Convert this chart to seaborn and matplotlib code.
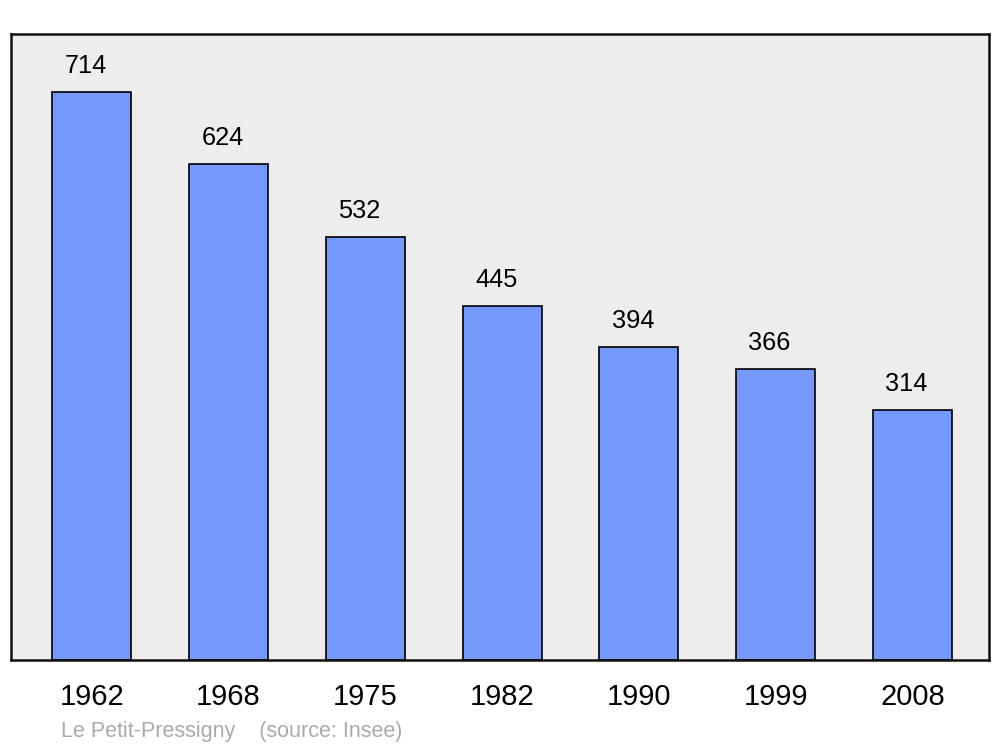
import matplotlib
matplotlib.use("Agg")
import matplotlib.pyplot as plt
import seaborn as sns
import pandas as pd

# ---------------------------------------------------
# DATA
# ---------------------------------------------------

years = ["1962", "1968", "1975", "1982", "1990", "1999", "2008"]
population = [714, 624, 532, 445, 394, 366, 314]

df = pd.DataFrame({"year": years, "population": population})

# ---------------------------------------------------
# STYLE
# ---------------------------------------------------

sns.set_style("white")
plt.rcParams["font.family"] = ["Liberation Sans", "DejaVu Sans"]

fig = plt.figure(figsize=(10, 7.47), dpi=100)
ax = fig.add_axes([0.011, 0.1165, 0.978, 0.838])
ax.set_facecolor("#ededed")

# ---------------------------------------------------
# BARS
# ---------------------------------------------------

sns.barplot(
    data=df,
    x="year",
    y="population",
    color="#7499ff",
    saturation=1,
    edgecolor="black",
    linewidth=1.2,
    width=0.578,
    ax=ax
)

for patch, value in zip(ax.patches, population):
    ax.annotate(
        str(value),
        xy=(patch.get_x() + patch.get_width() / 2, patch.get_height()),
        xytext=(-4.3, 13.5),
        textcoords="offset points",
        ha="center",
        va="baseline",
        fontsize=18.3,
        color="black"
    )

ax.set_xlim(-0.59, 6.56)
ax.set_ylim(0, 787)

ax.set_xlabel("")
ax.set_ylabel("")
ax.set_yticks([])
ax.tick_params(axis="x", length=0, pad=16.5, labelsize=21, labelcolor="black")

for spine in ax.spines.values():
    spine.set_visible(True)
    spine.set_linewidth(1.8)
    spine.set_color("#111111")

fig.text(
    0.061, 0.0134,
    "Le Petit-Pressigny    (source: Insee)",
    fontsize=15.5,
    color="#aaaaaa",
    ha="left",
    va="baseline"
)

fig.savefig("out.png", dpi=100, facecolor="white")
